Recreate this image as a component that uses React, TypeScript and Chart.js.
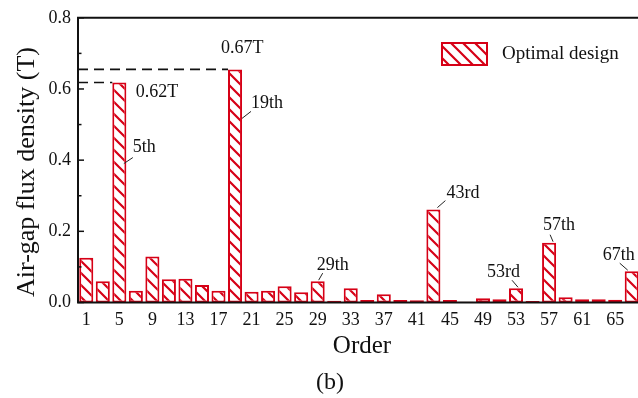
import React, { useEffect, useRef } from 'react';
import { Chart, registerables } from 'chart.js';

Chart.register(...registerables);

const orders = ['1', '3', '5', '7', '9', '11', '13', '15', '17', '19', '21', '23', '25', '27', '29', '31', '33', '35', '37', '39', '41', '43', '45', '47', '49', '51', '53', '55', '57', '59', '61', '63', '65', '67'];
const fluxDensity = [0.126, 0.060, 0.618, 0.033, 0.129, 0.065, 0.067, 0.049, 0.033, 0.655, 0.030, 0.033, 0.046, 0.029, 0.060, 0.005, 0.040, 0.007, 0.023, 0.007, 0.006, 0.261, 0.007, 0.002, 0.012, 0.009, 0.040, 0.004, 0.168, 0.015, 0.009, 0.009, 0.008, 0.088];
const yTicks = [0, 0.2, 0.4, 0.6, 0.8];
const peakOrders = ['5', '19', '29', '43', '53', '57', '67'];
const peakLabels = ['5th', '19th', '29th', '43rd', '53rd', '57th', '67th'];
const valueOrders = ['5', '19'];
const valueLabels = ['0.62T', '0.67T'];
const seriesName = 'Optimal design';

const FONT = "'Liberation Serif', 'Times New Roman', serif";
const RED = 'rgb(214,0,22)';

// label placement offsets (px) relative to bar centre / bar top
const peakLayout: Record<string, { tx: number; ty: number; l: number[] }> = {
  '5': { tx: 13.5, ty: 65, l: [4.5, 81, 13.5, 75] },
  '19': { tx: 16, ty: 34, l: [7, 49, 16, 42] },
  '29': { tx: -1, ty: -16, l: [5, -8, 1, -1] },
  '43': { tx: 13, ty: -16, l: [4, -2, 12, -9] },
  '53': { tx: -29, ty: -16, l: [-4, -8, 2, -1] },
  '57': { tx: -6, ty: -17, l: [1, -8, 4, -1] },
  '67': { tx: -29, ty: -16, l: [-12, -8, -4, -1] },
};
const valueLayout: Record<string, { tx: number; ty: number }> = {
  '5': { tx: 16.5, ty: 10 },
  '19': { tx: -14, ty: -21 },
};

function makePattern(): CanvasPattern | string {
  const s = 12;
  const c = document.createElement('canvas');
  c.width = s;
  c.height = s;
  const g = c.getContext('2d');
  if (!g) return RED;
  g.fillStyle = '#fff';
  g.fillRect(0, 0, s, s);
  g.strokeStyle = RED;
  g.lineWidth = 2.2;
  g.beginPath();
  g.moveTo(-2, -2);
  g.lineTo(s + 2, s + 2);
  g.moveTo(-3, s - 3);
  g.lineTo(3, s + 3);
  g.moveTo(s - 3, -3);
  g.lineTo(s + 3, 3);
  g.stroke();
  const p = g.createPattern(c, 'repeat');
  return p || RED;
}

export default function App() {
  const ref = useRef<HTMLCanvasElement>(null);

  useEffect(() => {
    if (!ref.current) return;
    const pattern = makePattern();

    const decor = {
      id: 'decor',
      afterDatasetsDraw(chart: any) {
        const ctx = chart.ctx;
        const { left, top, right, bottom } = chart.chartArea;
        const xs = chart.scales.x;
        const ys = chart.scales.y;
        ctx.save();
        // frame
        ctx.strokeStyle = '#111';
        ctx.lineWidth = 2;
        ctx.beginPath();
        ctx.moveTo(right + 5, top);
        ctx.lineTo(left, top);
        ctx.lineTo(left, bottom);
        ctx.lineTo(right + 5, bottom);
        ctx.stroke();
        // y ticks inward
        ctx.lineWidth = 1.5;
        for (let v = 0; v <= 0.8001; v += 0.1) {
          const y = ys.getPixelForValue(v);
          const major = Math.round(v * 10) % 2 === 0;
          ctx.beginPath();
          ctx.moveTo(left, y);
          ctx.lineTo(left + (major ? 6 : 3.5), y);
          ctx.stroke();
        }
        // dashed reference lines
        ctx.setLineDash([10, 6]);
        ctx.lineWidth = 1.6;
        valueOrders.forEach((o) => {
          const i = orders.indexOf(o);
          const bar = chart.getDatasetMeta(0).data[i];
          const y = ys.getPixelForValue(fluxDensity[i]);
          ctx.beginPath();
          ctx.moveTo(left, y);
          ctx.lineTo(bar.x - bar.width / 2, y);
          ctx.stroke();
        });
        ctx.setLineDash([]);
        // annotations
        ctx.fillStyle = '#111';
        ctx.font = `18px ${FONT}`;
        ctx.textBaseline = 'middle';
        ctx.textAlign = 'left';
        valueOrders.forEach((o, k) => {
          const i = orders.indexOf(o);
          const cx = xs.getPixelForValue(i);
          const ty = ys.getPixelForValue(fluxDensity[i]);
          const L = valueLayout[o];
          ctx.fillText(valueLabels[k], cx + L.tx, ty + L.ty);
        });
        ctx.lineWidth = 1;
        ctx.strokeStyle = '#222';
        peakOrders.forEach((o, k) => {
          const i = orders.indexOf(o);
          const cx = xs.getPixelForValue(i);
          const ty = ys.getPixelForValue(fluxDensity[i]);
          const L = peakLayout[o];
          ctx.fillText(peakLabels[k], cx + L.tx, ty + L.ty);
          ctx.beginPath();
          ctx.moveTo(cx + L.l[0], ty + L.l[1]);
          ctx.lineTo(cx + L.l[2], ty + L.l[3]);
          ctx.stroke();
        });
        // legend
        ctx.fillStyle = pattern as any;
        ctx.fillRect(442, 43, 45, 22);
        ctx.strokeStyle = RED;
        ctx.lineWidth = 2;
        ctx.strokeRect(442, 43, 45, 22);
        ctx.fillStyle = '#111';
        ctx.font = `19px ${FONT}`;
        ctx.fillText(chart.data.datasets[0].label, 502, 54);
        // axis titles
        ctx.font = `25px ${FONT}`;
        ctx.textAlign = 'center';
        ctx.fillText('Order', 362, 346);
        ctx.font = `24px ${FONT}`;
        ctx.fillText('(b)', 330, 383);
        ctx.save();
        ctx.translate(27, 172);
        ctx.rotate(-Math.PI / 2);
        ctx.font = `26px ${FONT}`;
        ctx.fillText('Air-gap flux density (T)', 0, 0);
        ctx.restore();
        ctx.restore();
      },
    };

    const chart = new Chart(ref.current, {
      type: 'bar',
      data: {
        labels: orders,
        datasets: [
          {
            label: seriesName,
            data: fluxDensity,
            backgroundColor: pattern as any,
            borderColor: RED,
            borderWidth: 2,
            borderSkipped: false,
            categoryPercentage: 1,
            barPercentage: 0.85,
          },
        ],
      },
      options: {
        responsive: false,
        animation: false,
        devicePixelRatio: 1,
        layout: { padding: { left: 0, top: 17, right: 10, bottom: 0 } },
        plugins: { legend: { display: false }, tooltip: { enabled: false } },
        scales: {
          x: {
            type: 'category',
            grid: { display: false, drawTicks: false },
            border: { display: false },
            afterFit: (s: any) => { s.height = 95.5; },
            ticks: {
              autoSkip: false,
              maxRotation: 0,
              padding: 7,
              color: '#111',
              font: { family: FONT, size: 18 },
              callback: (_v: any, i: number) => (i % 2 === 0 ? orders[i] : ''),
            },
          },
          y: {
            min: 0,
            max: 0.8,
            grid: { display: false, drawTicks: false },
            border: { display: false },
            afterFit: (s: any) => { s.width = 78; },
            afterBuildTicks: (s: any) => { s.ticks = yTicks.map((v) => ({ value: v })); },
            ticks: {
              padding: 7,
              color: '#111',
              font: { family: FONT, size: 18 },
              callback: (v: any) => Number(v).toFixed(1),
            },
          },
        },
      },
      plugins: [decor],
    });
    return () => chart.destroy();
  }, []);

  return (
    <div style={{ position: 'fixed', left: 0, top: 0, width: 638, height: 398, overflow: 'hidden', background: '#fff' }}>
      <canvas ref={ref} width={650} height={398} style={{ display: 'block' }} />
    </div>
  );
}
